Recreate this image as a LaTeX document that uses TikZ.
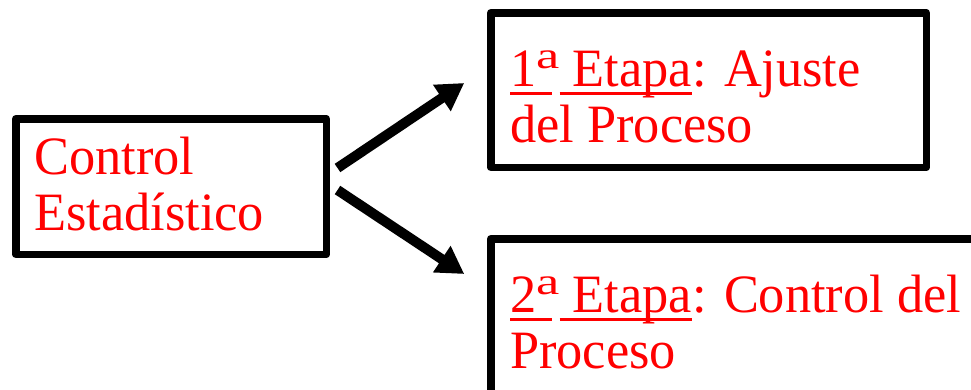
\documentclass[tikz,border=0pt]{standalone}
\usepackage{fontspec}
\setmainfont[FakeStretch=0.97]{Liberation Serif}
\usepackage{graphicx}
\usetikzlibrary{arrows.meta}
\definecolor{labelred}{RGB}{255,0,0}
% underline of a fixed width under a piece of text
\newcommand\ulfixed[2]{\rlap{\rule[-9pt]{#1}{3.3pt}}#2}
% underline as wide as the text itself
\newcommand\ulfit[1]{\setbox0=\hbox{#1}\rlap{\rule[-9pt]{\wd0}{3.3pt}}\box0}
% raised ordinal "a"
\newcommand\orda{\raisebox{18pt}{\scalebox{1}[0.7]{a}}}

\begin{document}
\begin{tikzpicture}[x=1pt,y=-1pt,
  frame/.style={draw=black,line width=7.5pt,line join=round,inner sep=0pt},
  txt/.style={anchor=base west,inner sep=0pt,text=labelred,font=\fontsize{54}{56}\selectfont},
  flow/.style={line width=10pt,-{Triangle[length=27pt,width=30pt]}}]
\fill[white] (0,0) rectangle (971,389);
\useasboundingbox (0,0) rectangle (971,389);
\clip (0,0) rectangle (971,389);

% boxes
\node[frame,minimum width=310.5pt,minimum height=135.5pt] (ctrl) at (171,186.5) {};
\node[frame,minimum width=435.5pt,minimum height=154.5pt] (stageA) at (708.5,90) {};
\node[frame,minimum width=520pt,minimum height=190pt] (stageB) at (750.75,333.75) {};

% texts
\node[txt] (ctrl1) at (34,174) {Control};
\node[txt] (ctrl2) at (34,230) {Estadístico};
\node[txt] (stA1) at (510,86) {\ulfixed{42pt}{1}\orda\ulfit{\ Etapa}: Ajuste};
\node[txt] (stA2) at (510,142) {del Proceso};
\node[txt] (stB1) at (510,312) {\ulfixed{42pt}{2}\orda\ulfit{\ Etapa}: Control del};
\node[txt] (stB2) at (510,368) {Proceso};

% arrows
\draw[flow] ([shift={(7.5,-18.5)}]ctrl.east) -- ([shift={(-22.75,-7)}]stageA.west);
\draw[flow] ([shift={(7.5,3.5)}]ctrl.east) -- ([shift={(-22.75,-59.75)}]stageB.west);
\end{tikzpicture}
\end{document}
